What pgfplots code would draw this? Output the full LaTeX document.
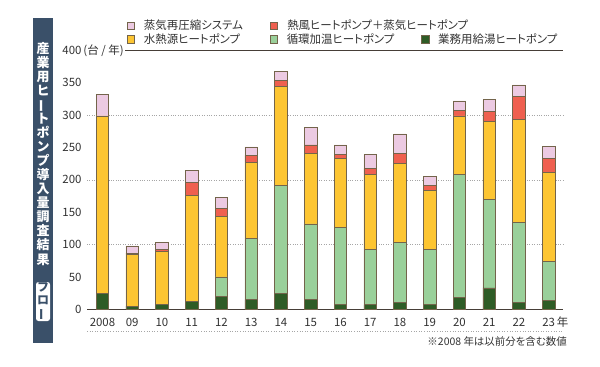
\documentclass[border=0pt]{standalone}
\usepackage{fontspec}
\setmainfont{Noto Sans CJK JP}[RawFeature=+palt]
\newfontfamily\titlefont{Noto Sans CJK JP}
\usepackage{pgfplots}
\pgfplotsset{compat=1.18}
\usepackage{pgfplotstable}
\definecolor{pinkc}{RGB}{236,202,226}
\definecolor{redc}{RGB}{239,96,79}
\definecolor{yelc}{RGB}{253,197,50}
\definecolor{lgc}{RGB}{154,208,154}
\definecolor{dgc}{RGB}{46,92,38}
\definecolor{navyc}{RGB}{58,80,105}
\definecolor{axisc}{RGB}{70,62,55}
\definecolor{edgec}{RGB}{115,100,75}
\definecolor{txtc}{RGB}{50,50,50}
\pgfplotstableread{
x dg lg yel red pink
0 25 0 274 0 33
1 5 0 80 2 11
2 8 0 81 3 12
3 12 0 164 20 19
4 20 30 94 12 17
5 15 95 117 11 13
6 25 166 153 10 14
7 15 117 109 13 27
8 8 119 106 6 15
9 7 86 115 10 21
10 11 93 122 15 30
11 7 85 92 8 13
12 18 190 91 8 15
13 33 137 121 15 18
14 11 123 160 35 18
15 14 60 138 21 19
}\data
\begin{document}
\begin{tikzpicture}[x=1bp,y=1bp]
\path[use as bounding box] (0,0) rectangle (600,-366);
\fill[navyc] (33,-18) rectangle (53,-343);
\node[text=white, font=\titlefont\bfseries\fontsize{13}{14.1}\selectfont, align=center, anchor=north, inner sep=0] at (43,-42) {産\\業\\用\\ヒ\\\rotatebox[origin=c]{90}{ー}\\ト\\ポ\\ン\\プ\\導\\入\\量\\調\\査\\結\\果};
\fill[white, rounded corners=2.5bp] (36,-282) rectangle (50,-321);
\node[text=navyc, font=\titlefont\bfseries\fontsize{12}{13}\selectfont, align=center, inner sep=0] at (43,-301.5) {フ\\ロ\\\rotatebox[origin=c]{90}{ー}};
\begin{axis}[
  at={(87bp,-309.3bp)}, anchor=south west,
  scale only axis, width=476bp, height=258.8bp,
  xmin=-0.52, xmax=15.48, ymin=0, ymax=400,
  ybar stacked, bar width=12.5bp,
  separate axis lines,
  axis x line*=bottom, axis y line*=left,
  y axis line style={draw=none},
  x axis line style={axisc, line width=1.3bp},
  major tick length=0, minor tick length=0,
  xtick={0,...,15},
  xticklabels={2008,09,10,11,12,13,14,15,16,17,18,19,20,21,22,{23\smash{\rlap{\,年}}}},
  ytick={0,50,...,350},
  extra y ticks={400},
  extra y tick labels={{400\smash{\rlap{\,(台 / 年)}}}},
  minor ytick={100,200,300},
  yminorgrids,
  minor grid style={dotted, black!35, line width=0.6bp},
  ticklabel style={font=\fontsize{11.5}{13}\selectfont, text=txtc},
  yticklabel style={xshift=-2bp},
  xticklabel style={anchor=base, yshift=-17.4bp},
  /pgf/number format/assume math mode=true,
  clip=false,
  reverse legend,
  legend columns=3,
  legend cell align=left,
  legend image code/.code={\draw[#1, line width=0.5bp] (0bp,-3.65bp) rectangle (7.3bp,3.65bp);},
  legend style={draw=none, fill=none, at={(0.084,1.1186)}, anchor=north west, inner sep=0pt,
    nodes={inner sep=0pt},
    font=\fontsize{11.5}{13}\selectfont, text=txtc, row sep=2.5bp,
    /tikz/every odd column/.append style={column sep=9bp},
    /tikz/every even column/.append style={column sep=27bp}},
  every axis plot/.append style={draw=edgec, line width=0.6bp},
]
\addplot[fill=dgc] table[x=x,y=dg]{\data};
\addlegendentry{業務用給湯ヒートポンプ}
\addplot[fill=lgc] table[x=x,y=lg]{\data};
\addlegendentry{循環加温ヒートポンプ}
\addplot[fill=yelc] table[x=x,y=yel]{\data};
\addlegendentry{水熱源ヒートポンプ}
\addlegendimage{empty legend}
\addlegendentry{\mbox{}}
\addplot[fill=redc] table[x=x,y=red]{\data};
\addlegendentry{\rlap{熱風ヒートポンプ＋蒸気ヒートポンプ}}
\addplot[fill=pinkc] table[x=x,y=pink]{\data};
\addlegendentry{蒸気再圧縮システム}
\draw[axisc, line width=1.1bp] (axis cs:0.763,400) -- (axis cs:15.48,400);
\end{axis}
\draw[dotted, black!35, line width=0.6bp] (87,-331.7) -- (563,-331.7);
\node[anchor=east, inner sep=0, font=\fontsize{10.5}{12}\selectfont, text=txtc] at (567,-341.7) {※2008 年は以前分を含む数値};
\end{tikzpicture}
\end{document}
